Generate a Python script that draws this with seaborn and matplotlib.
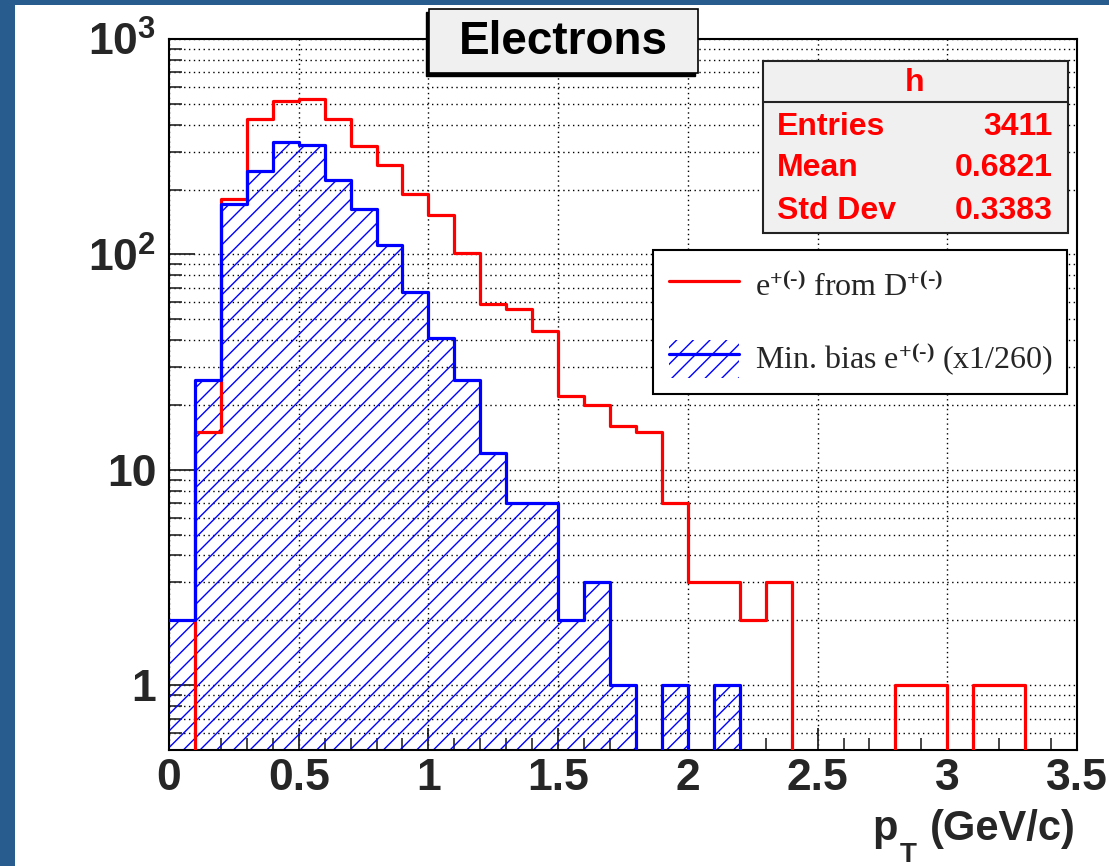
import numpy as np
import pandas as pd
import matplotlib
matplotlib.use("Agg")
import matplotlib.pyplot as plt
import seaborn as sns
from matplotlib.patches import Rectangle, Patch
from matplotlib.lines import Line2D
from matplotlib.ticker import FixedLocator, FixedFormatter, MultipleLocator, LogLocator, NullFormatter

# ---------------- data ----------------
bin_edges = [round(0.1 * i, 2) for i in range(36)]
d_counts = [0, 15, 180, 425, 515, 525, 425, 320, 260, 190,
            153, 102, 59, 56, 44, 22, 20, 16, 15, 7,
            3, 3, 2, 3, 0, 0, 0, 0, 1, 1,
            0, 1, 1, 0, 0]
mb_counts = [2, 26, 172, 245, 333, 323, 222, 162, 111, 67,
             41, 26, 12, 7, 7, 2, 3, 1, 0, 1,
             0, 1, 0, 0, 0, 0, 0, 0, 0, 0,
             0, 0, 0, 0, 0]
x_ticks = [0, 0.5, 1, 1.5, 2, 2.5, 3, 3.5]
x_tick_labels = ["0", "0.5", "1", "1.5", "2", "2.5", "3", "3.5"]
y_ticks = [1, 10, 100, 1000]
y_tick_labels = ["1", "10", r"$\mathbf{10^{2}}$", r"$\mathbf{10^{3}}$"]
title = "Electrons"
stats_name = "h"
stats_labels = ["Entries", "Mean", "Std Dev"]
stats_values = ["3411", "0.6821", "0.3383"]
legend_labels = [r"e$^{+(\text{-})}$ from D$^{+(\text{-})}$",
                 r"Min. bias e$^{+(\text{-})}$ (x1/260)"]

# ---------------- style ----------------
sns.set_style("white")
plt.rcParams["font.family"] = ["Liberation Sans", "DejaVu Sans"]
plt.rcParams["font.weight"] = "bold"
plt.rcParams["mathtext.fontset"] = "custom"
plt.rcParams["mathtext.rm"] = "Liberation Serif"
plt.rcParams["mathtext.it"] = "Liberation Serif:italic"
plt.rcParams["mathtext.bf"] = "Liberation Sans:bold"
plt.rcParams["hatch.linewidth"] = 1.0
plt.rcParams["hatch.color"] = "blue"

W, H = 1109, 866
fig = plt.figure(figsize=(W / 100, H / 100), dpi=100, facecolor="white")


def fx(px):
    return px / W


def fy(py):
    return 1 - py / H


ax = fig.add_axes([fx(169), fy(750), fx(1077) - fx(169), fy(39) - fy(750)])
ax.set_facecolor("white")

centers = [e + 0.05 for e in bin_edges[:-1]]
df = pd.DataFrame({"pt": centers, "d": d_counts, "mb": mb_counts})

LW = 2.3
# red: e from D
sns.histplot(data=df, x="pt", weights="d", bins=bin_edges, element="step",
             fill=False, color="red", linewidth=LW, ax=ax, zorder=3)
# blue hatched fill
sns.histplot(data=df, x="pt", weights="mb", bins=bin_edges, element="step",
             fill=True, color="blue", ax=ax, zorder=2)
poly = ax.collections[-1]
poly.set_alpha(1)
poly.set_facecolor("none")
poly.set_edgecolor("blue")
poly.set_linewidth(0)
poly.set_hatch("//")
# blue outline
sns.histplot(data=df, x="pt", weights="mb", bins=bin_edges, element="step",
             fill=False, color="blue", linewidth=LW, ax=ax, zorder=4)

ax.set_yscale("log")
ax.set_xlim(0, 3.5)
ax.set_ylim(0.5, 1000)
ax.set_xlabel("")
ax.set_ylabel("")

ax.xaxis.set_major_locator(FixedLocator(x_ticks))
ax.xaxis.set_major_formatter(FixedFormatter(x_tick_labels))
ax.xaxis.set_minor_locator(MultipleLocator(0.1))
ax.yaxis.set_major_locator(FixedLocator(y_ticks))
ax.yaxis.set_major_formatter(FixedFormatter(y_tick_labels))
ax.yaxis.set_minor_locator(LogLocator(base=10, subs=np.arange(2, 10)))
ax.yaxis.set_minor_formatter(NullFormatter())

ax.tick_params(axis="x", which="major", direction="in", length=16, width=1.3,
               labelsize=32, pad=6, bottom=True, top=False)
ax.tick_params(axis="x", which="minor", direction="in", length=8.5, width=1.2,
               bottom=True, top=False)
ax.tick_params(axis="y", which="major", direction="in", length=19, width=1.3,
               labelsize=32, pad=9, left=True, right=False)
ax.tick_params(axis="y", which="minor", direction="in", length=9.5, width=1.2,
               left=True, right=False)

dot = (0, (1, 2.5))
ax.grid(True, which="major", axis="x", color="black", linestyle=dot, linewidth=1.0)
ax.grid(True, which="both", axis="y", color="black", linestyle=dot, linewidth=1.0)
ax.set_axisbelow(True)
for s in ax.spines.values():
    s.set_visible(True)
    s.set_color("black")
    s.set_linewidth(1.5)

# ---------------- legend ----------------
handles = [Line2D([], [], color="red", lw=LW),
           (Patch(facecolor="none", edgecolor="blue", hatch="//", lw=0),
            Line2D([], [], color="blue", lw=LW))]
leg = ax.legend(handles, legend_labels, loc="upper left",
                bbox_to_anchor=(fx(653), fy(393), fx(1067) - fx(653), fy(250) - fy(393)),
                bbox_transform=fig.transFigure, mode="expand", borderaxespad=0,
                frameon=True, fancybox=False, edgecolor="black", framealpha=1,
                prop={"family": "Liberation Serif", "size": 23, "weight": "normal"},
                handlelength=2.2, handleheight=1.45, labelspacing=1.12,
                borderpad=0.5, handletextpad=0.5)
leg.get_frame().set_linewidth(1.5)

# ---------------- title box ----------------
fig.add_artist(Rectangle((fx(426), fy(76)), fx(695) - fx(426), fy(12) - fy(76),
                         transform=fig.transFigure, facecolor="black",
                         edgecolor="black", zorder=5))
fig.add_artist(Rectangle((fx(429), fy(73)), fx(698) - fx(429), fy(9) - fy(73),
                         transform=fig.transFigure, facecolor="#f0f0f0",
                         edgecolor="black", lw=1.2, zorder=6))
fig.text(fx(563), fy(42), title, ha="center", va="center", fontsize=33,
         fontweight="bold", color="black", zorder=7)

# ---------------- stats box ----------------
fig.add_artist(Rectangle((fx(763), fy(233)), fx(1068) - fx(763), fy(61) - fy(233),
                         transform=fig.transFigure, facecolor="#f0f0f0",
                         edgecolor="#222222", lw=1.5, zorder=6))
fig.add_artist(Line2D([fx(763), fx(1068)], [fy(102), fy(102)],
                      transform=fig.transFigure, color="#222222", lw=1.5, zorder=7))
fig.text(fx(915), fy(83), stats_name, ha="center", va="center", fontsize=23,
         fontweight="bold", color="#ff0000", zorder=8)
for lab, val, yy in zip(stats_labels, stats_values, [127, 168, 211]):
    fig.text(fx(777), fy(yy), lab, ha="left", va="center", fontsize=23,
             fontweight="bold", color="#ff0000", zorder=8)
    fig.text(fx(1053), fy(yy), val, ha="right", va="center", fontsize=23,
             fontweight="bold", color="#ff0000", zorder=8)

# ---------------- x axis title ----------------
fig.text(fx(1076), fy(840), "(GeV/c)", ha="right", va="baseline", fontsize=30,
         fontweight="bold")
fig.text(fx(872), fy(840), "p", ha="left", va="baseline", fontsize=30,
         fontweight="bold")
fig.text(fx(900), fy(862), "T", ha="left", va="baseline", fontsize=20,
         fontweight="bold")

# ---------------- frame bands ----------------
band = "#285c8e"
fig.add_artist(Rectangle((0, 0), fx(15), 1, transform=fig.transFigure,
                         facecolor=band, edgecolor="none", zorder=10))
fig.add_artist(Rectangle((0, fy(5)), 1, 5 / H, transform=fig.transFigure,
                         facecolor=band, edgecolor="none", zorder=10))

fig.savefig("out.png", dpi=100, facecolor="white")
